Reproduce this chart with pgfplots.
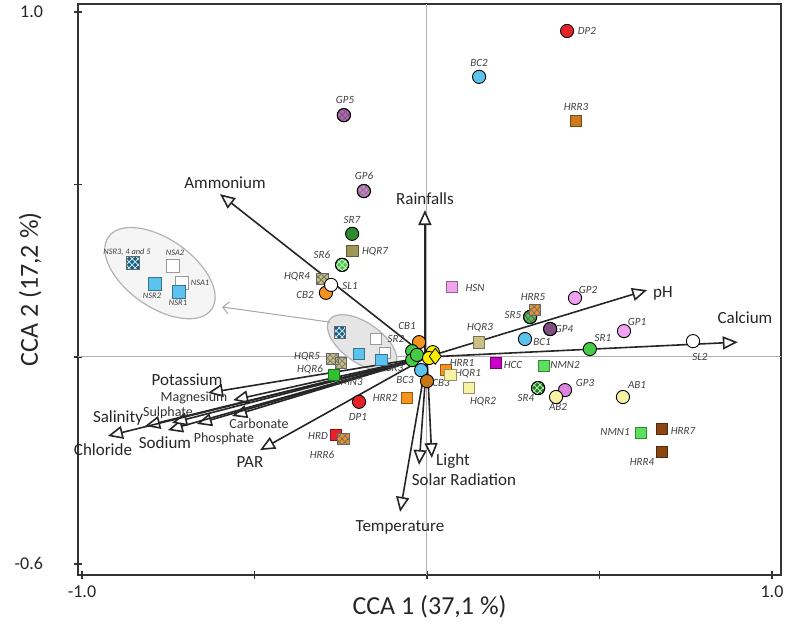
\documentclass[border=0pt]{standalone}
\usepackage{fontspec}
\setmainfont{Carlito}
\usepackage{pgfplots}
\pgfplotsset{compat=1.18}
\usetikzlibrary{arrows.meta,patterns}
\definecolor{cred}{HTML}{E8222A}
\definecolor{cblue}{HTML}{5CC3EE}
\definecolor{cpurp}{HTML}{C45CC8}
\definecolor{cpurp2}{HTML}{D675D6}
\definecolor{cdgreen}{HTML}{2C8C2C}
\definecolor{cgreen}{HTML}{44CC44}
\definecolor{corange}{HTML}{F5931E}
\definecolor{cbrorange}{HTML}{C7761A}
\definecolor{cyellow}{HTML}{FAF000}
\definecolor{cpink}{HTML}{F2A2F2}
\definecolor{cgpt}{HTML}{DC84DC}
\definecolor{clyellow}{HTML}{F8F3A2}
\definecolor{cgpf}{HTML}{9A3C9A}
\definecolor{csrf}{HTML}{1C7A1C}
\definecolor{chrrt}{HTML}{CC7A1E}
\definecolor{colive}{HTML}{9E9656}
\definecolor{colivel}{HTML}{C8BE74}
\definecolor{chsn}{HTML}{F4A4EC}
\definecolor{chqrt}{HTML}{C8C084}
\definecolor{chcc}{HTML}{C800C8}
\definecolor{cnmn}{HTML}{5AE05A}
\definecolor{cbrown}{HTML}{8B4513}
\definecolor{cteal}{HTML}{1E5A7A}
\definecolor{cnmnt}{HTML}{30C030}
\pgfplotsset{
 C/.style={only marks, mark=*, mark size=3.3pt, mark options={draw=black, line width=0.45pt, fill=#1}, forget plot},
 S/.style={only marks, mark=square*, mark size=2.9pt, mark options={draw=#1!60!black, line width=0.4pt, fill=#1}, forget plot},
 HC/.style={only marks, mark=*, mark size=3.3pt, mark options={draw=black, line width=0.45pt, pattern=crosshatch, pattern color=#1}, forget plot},
 HS/.style={only marks, mark=square*, mark size=2.9pt, mark options={draw=black!60, line width=0.4pt, pattern=crosshatch, pattern color=#1}, forget plot},
 arr/.style={black!85, line width=0.8pt, no markers, -{Triangle[length=7.5pt,width=6.5pt,fill=white]}, forget plot},
}
\newcommand{\slab}[3]{\node[font=\fontsize{5.5}{6}\selectfont\itshape, text=black!75, inner sep=0pt] at (axis cs:{(#1-427)/345},{(357-#2)/345}) {#3};}
\newcommand{\ilab}[3]{\node[font=\fontsize{4.2}{5}\selectfont\itshape, text=black!75, inner sep=0pt] at (axis cs:{(#1-427)/345},{(357-#2)/345}) {#3};}
\newcommand{\elab}[3]{\node[font=\fontsize{8.5}{10}\selectfont, text=black!85, inner sep=0pt] at (axis cs:{(#1-427)/345},{(357-#2)/345}) {#3};}
\newcommand{\eslab}[3]{\node[font=\fontsize{7}{8}\selectfont, text=black!80, inner sep=0pt] at (axis cs:{(#1-427)/345},{(357-#2)/345}) {#3};}
\begin{document}
\begin{tikzpicture}
\begin{axis}[scale only axis, width=351.5pt, height=285.5pt,
 xmin=-1.0116, xmax=1.0261, ymin=-0.6319, ymax=1.0232, clip=false,
 axis line style={black!80, line width=0.9pt},
 xtick={-1,-0.5,0,0.5,1}, xticklabels={-1.0,,,,1.0},
 ytick={-0.6,0,0.5,1}, yticklabels={-0.6,,,1.0},
 xtick pos=bottom, ytick pos=left,
 tick align=center, major tick length=4pt, tick style={black!80, line width=0.8pt},
 ticklabel style={font=\fontsize{9}{10}\selectfont, text=black!85},
 yticklabel style={xshift=-12pt},
 xlabel={CCA 1 (37,1 \%)}, ylabel={CCA 2 (17,2 \%)},
 label style={font=\fontsize{13}{15}\selectfont, text=black!85},
 xlabel style={at={(axis description cs:0.5,-0.056)}, anchor=center},
 ylabel style={at={(axis description cs:-0.068,0.5)}, anchor=center},
]
\coordinate (SW) at (rel axis cs:0,0);
\coordinate (NE) at (rel axis cs:1,1);
% zero lines
\draw[black!30, line width=0.5pt] (axis cs:-1.0116,0) -- (axis cs:1.0261,0);
\draw[black!30, line width=0.5pt] (axis cs:0,-0.6319) -- (axis cs:0,1.0232);
% ellipses
\draw[black!30, fill=black!4, line width=0.6pt] (axis cs:-0.774,0.243) ellipse [x radius=31.5pt, y radius=17pt, rotate=-35];
\draw[black!30, fill=black!10, line width=0.6pt] (axis cs:-0.188,0.041) ellipse [x radius=20pt, y radius=10pt, rotate=-35];
\draw[black!35, line width=0.5pt, -{Straight Barb[length=3pt,width=6pt]}] (axis cs:-0.281,0.101) -- (axis cs:-0.594,0.145);
% environmental arrows
\addplot[arr] coordinates {(0,0) (-0.600,0.472)};
\addplot[arr] coordinates {(-0.006,0) (-0.006,0.426)};
\addplot[arr] coordinates {(0,0) (0.638,0.194)};
\addplot[arr] coordinates {(0,0) (0.901,0.043)};
\addplot[arr] coordinates {(0,0) (-0.635,-0.104)};
\addplot[arr] coordinates {(0,0) (-0.562,-0.125)};
\addplot[arr] coordinates {(0,0) (-0.565,-0.171)};
\addplot[arr] coordinates {(0,0) (-0.667,-0.194)};
\addplot[arr] coordinates {(0,0) (-0.751,-0.212)};
\addplot[arr] coordinates {(0,0) (-0.739,-0.191)};
\addplot[arr] coordinates {(0,0) (-0.817,-0.200)};
\addplot[arr] coordinates {(0,0) (-0.925,-0.229)};
\addplot[arr] coordinates {(0,0) (-0.484,-0.270)};
\addplot[arr] coordinates {(0,0) (-0.078,-0.449)};
\addplot[arr] coordinates {(0,0) (-0.023,-0.313)};
\addplot[arr] coordinates {(0,0) (0.014,-0.293)};
% squares
\addplot[S=chrrt] coordinates {(0.432,0.684)};
\addplot[S=colive] coordinates {(-0.217,0.307)};
\addplot[S=colivel] coordinates {(-0.304,0.226)};
\addplot[HS=black!55] coordinates {(-0.304,0.226)};
\addplot[S=chsn] coordinates {(0.072,0.203)};
\addplot[S=chqrt] coordinates {(0.151,0.043)};
\addplot[S=corange] coordinates {(0.055,-0.038) (-0.058,-0.119)};
\addplot[S=clyellow] coordinates {(0.067,-0.052) (0.122,-0.090)};
\addplot[S=chcc] coordinates {(0.200,-0.017)};
\addplot[S=cnmn] coordinates {(0.339,-0.026) (0.620,-0.220)};
\addplot[S=cred] coordinates {(-0.264,-0.226)};
\addplot[S=corange] coordinates {(-0.243,-0.238)};
\addplot[HS=black!55] coordinates {(-0.243,-0.238)};
\addplot[S=cbrown] coordinates {(0.681,-0.209) (0.681,-0.275)};
\addplot[S=colivel] coordinates {(-0.275,-0.006) (-0.249,-0.017)};
\addplot[HS=black!50] coordinates {(-0.275,-0.006) (-0.249,-0.017)};
\addplot[S=cnmnt] coordinates {(-0.270,-0.052)};
\addplot[S=cteal] coordinates {(-0.252,0.072)};
\addplot[HS=white!60!cblue] coordinates {(-0.252,0.072)};
\addplot[S=white] coordinates {(-0.148,0.052) (-0.122,0.012)};
\addplot[S=cblue] coordinates {(-0.197,0.009) (-0.133,-0.009)};
% inset squares
\addplot[S=cteal, mark size=3.2pt] coordinates {(-0.852,0.272)};
\addplot[HS=white!60!cblue, mark size=3.2pt] coordinates {(-0.852,0.272)};
\addplot[S=white, mark size=3.2pt] coordinates {(-0.736,0.264) (-0.710,0.214)};
\addplot[S=cblue, mark size=3.2pt] coordinates {(-0.788,0.212) (-0.719,0.188)};
% circles
\addplot[C=cred] coordinates {(0.406,0.945) (-0.197,-0.130)};
\addplot[C=cblue] coordinates {(0.151,0.812) (0.284,0.052) (-0.017,-0.038)};
\addplot[C=cpurp] coordinates {(-0.241,0.701)};
\addplot[HC=black!60] coordinates {(-0.241,0.701)};
\addplot[C=cpurp2] coordinates {(-0.183,0.481)};
\addplot[HC=black!50] coordinates {(-0.183,0.481)};
\addplot[C=cdgreen] coordinates {(-0.217,0.357)};
\addplot[C=cgreen] coordinates {(-0.246,0.267)};
\addplot[HC=white!70!cgreen] coordinates {(-0.246,0.267)};
\addplot[C=corange] coordinates {(-0.293,0.186) (-0.023,0.043)};
\addplot[C=white] coordinates {(-0.278,0.209) (0.771,0.046)};
\addplot[C=cgreen] coordinates {(-0.043,0.017) (-0.043,-0.009) (-0.029,0.006) (0.472,0.023)};
\addplot[C=cbrorange] coordinates {(0.000,-0.070)};
\addplot[C=cyellow] coordinates {(0.017,0.014) (0.006,-0.003)};
\addplot[only marks, mark=diamond*, mark size=4pt, mark options={draw=black, line width=0.4pt, fill=cyellow}, forget plot] coordinates {(0.024,0.002)};
\addplot[C=cgpf] coordinates {(0.357,0.081)};
\addplot[HC=black!60] coordinates {(0.357,0.081)};
\addplot[C=cgreen] coordinates {(0.299,0.116)};
\addplot[HC=black!60] coordinates {(0.299,0.116)};
\addplot[S=corange] coordinates {(0.313,0.136)};
\addplot[HS=black!55] coordinates {(0.313,0.136)};
\addplot[C=cpink] coordinates {(0.429,0.171) (0.571,0.075)};
\addplot[C=csrf] coordinates {(0.322,-0.090)};
\addplot[HC=white!60!cgreen] coordinates {(0.322,-0.090)};
\addplot[C=cgpt] coordinates {(0.400,-0.096)};
\addplot[C=clyellow] coordinates {(0.374,-0.116) (0.568,-0.116)};
% environmental labels
\elab{225}{183}{Ammonium}
\elab{425}{199}{Rainfalls}
\elab{663}{293}{pH}
\elab{745}{318}{Calcium}
\elab{187}{380}{Potassium}
\eslab{194}{398}{Magnesium}
\eslab{168}{413}{Sulphate}
\elab{118}{418}{Salinity}
\elab{103}{450}{Chloride}
\elab{165}{443}{Sodium}
\eslab{224}{439}{Phosphate}
\eslab{259}{424}{Carbonate}
\elab{250}{462}{PAR}
\elab{400}{527}{Temperature}
\elab{464}{480}{Solar Radiation}
\elab{453}{461}{Light}
% sample labels
\slab{587}{31}{DP2}
\slab{479}{63}{BC2}
\slab{576}{107}{HRR3}
\slab{345}{100}{GP5}
\slab{364}{176}{GP6}
\slab{352}{220}{SR7}
\slab{375}{252}{HQR7}
\slab{322}{255}{SR6}
\slab{297}{277}{HQR4}
\slab{350}{286}{SL1}
\slab{305}{295}{CB2}
\slab{407}{326}{CB1}
\slab{396}{339}{SR2}
\slab{395}{368}{SR3}
\slab{405}{380}{BC3}
\slab{441}{383}{CB3}
\slab{480}{328}{HQR3}
\slab{475}{288}{HSN}
\slab{533}{297}{HRR5}
\slab{513}{315}{SR5}
\slab{564}{329}{GP4}
\slab{542}{342}{BC1}
\slab{588}{290}{GP2}
\slab{637}{322}{GP1}
\slab{603}{338}{SR1}
\slab{700}{357}{SL2}
\slab{462}{363}{HRR1}
\slab{468}{374}{HQR1}
\slab{483}{402}{HQR2}
\slab{513}{365}{HCC}
\slab{565}{365}{NMN2}
\slab{526}{398}{SR4}
\slab{558}{407}{AB2}
\slab{585}{383}{GP3}
\slab{637}{385}{AB1}
\slab{615}{432}{NMN1}
\slab{683}{431}{HRR7}
\slab{642}{462}{HRR4}
\slab{385}{398}{HRR2}
\slab{358}{417}{DP1}
\slab{318}{436}{HRD}
\slab{322}{455}{HRR6}
\slab{307}{357}{HQR5}
\slab{310}{370}{HQR6}
\slab{348}{382}{NMN3}
\ilab{127}{252}{NSR3, 4 and 5}
\ilab{175}{253}{NSA2}
\ilab{152}{296}{NSR2}
\ilab{200}{283}{NSA1}
\ilab{178}{303}{NSR1}
\end{axis}
\pgfresetboundingbox
\useasboundingbox ([shift={(-39pt,-28pt)}]SW) rectangle ([shift={(2pt,2pt)}]NE);
\end{tikzpicture}
\end{document}
